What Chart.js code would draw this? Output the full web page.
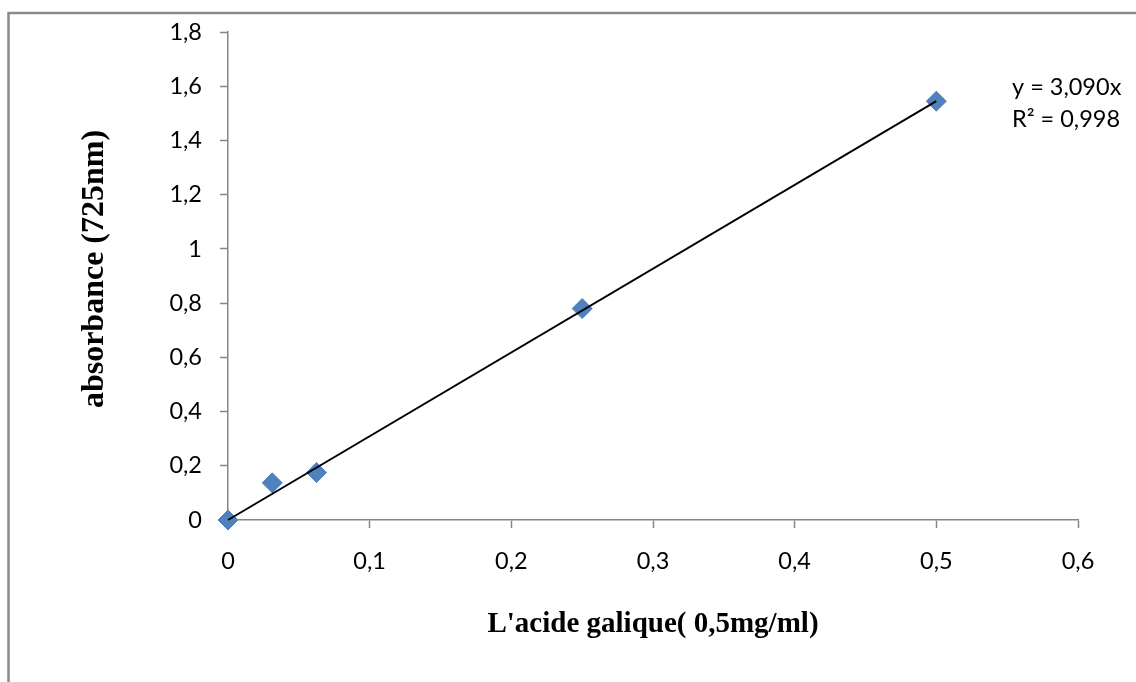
<!DOCTYPE html>
<html>
<head>
<meta charset="utf-8">
<script src="https://cdn.jsdelivr.net/npm/chart.js@4/dist/chart.umd.min.js"></script>
<style>
  html, body { margin: 0; padding: 0; background: #ffffff; }
  #wrap { position: relative; width: 1136px; height: 682px; }
</style>
</head>
<body>
<div id="wrap"><canvas id="c"></canvas></div>
<script>
// ---- data ----
const concentrations = [0, 0.03125, 0.0625, 0.25, 0.5];
const absorbances    = [0, 0.137, 0.175, 0.78, 1.545];
const trendX = [0, 0.5];
const trendY = [0, 1.545];
const xTickLabels = ['0', '0,1', '0,2', '0,3', '0,4', '0,5', '0,6'];
const yTickLabels = ['0', '0,2', '0,4', '0,6', '0,8', '1', '1,2', '1,4', '1,6', '1,8'];
const equationLines = ['y = 3,090x', 'R\u00B2 = 0,998'];
const xTitle = "L'acide galique( 0,5mg/ml)";
const yTitle = 'absorbance (725nm)';

const pointData = concentrations.map((x, i) => ({ x: x, y: absorbances[i] }));
const trendData = trendX.map((x, i) => ({ x: x, y: trendY[i] }));

const AXIS_GRAY = '#868686';
const TICK_FONT = { family: 'Lato', size: 23.5 };

const frameAndText = {
  id: 'frameAndText',
  beforeDraw(chart) {
    const ctx = chart.ctx;
    ctx.save();
    ctx.fillStyle = '#ffffff';
    ctx.fillRect(0, 0, chart.width, chart.height);
    ctx.strokeStyle = '#8a8a8a';
    ctx.lineWidth = 2.5;
    ctx.beginPath();
    ctx.moveTo(8.5, chart.height + 5);
    ctx.lineTo(8.5, 13);
    ctx.lineTo(chart.width + 5, 13);
    ctx.stroke();
    ctx.restore();
  },
  afterDraw(chart) {
    const ctx = chart.ctx;
    ctx.save();
    ctx.fillStyle = '#000000';
    ctx.font = '23.5px Lato';
    ctx.textAlign = 'left';
    ctx.textBaseline = 'alphabetic';
    ctx.fillText(equationLines[0], 1012, 95);
    ctx.fillText(equationLines[1], 1012, 127);
    // y-axis title (rotated), centred a little above the plot's middle as in the reference
    ctx.font = 'bold 32px "Liberation Serif"';
    ctx.textAlign = 'center';
    ctx.textBaseline = 'alphabetic';
    ctx.translate(103, 269);
    ctx.rotate(-Math.PI / 2);
    ctx.fillText(yTitle, 0, 0);
    ctx.restore();
  }
};

new Chart(document.getElementById('c'), {
  type: 'scatter',
  data: {
    datasets: [
      {
        type: 'line',
        label: 'trend',
        data: trendData,
        borderColor: '#000000',
        borderWidth: 2,
        pointRadius: 0,
        fill: false,
        clip: false,
        order: 0
      },
      {
        label: 'absorbance',
        data: pointData,
        pointStyle: 'rectRot',
        pointRadius: 10,
        pointBackgroundColor: '#4F81BD',
        pointBorderColor: '#4F81BD',
        pointBorderWidth: 1,
        showLine: false,
        clip: false,
        order: 1
      }
    ]
  },
  options: {
    responsive: true,
    maintainAspectRatio: false,
    animation: false,
    layout: { padding: { top: 32, right: 58, left: 0, bottom: 0 } },
    plugins: {
      legend: { display: false },
      tooltip: { enabled: false }
    },
    scales: {
      x: {
        type: 'linear',
        min: 0,
        max: 0.6,
        afterFit(scale) { scale.height = 162; },
        ticks: {
          stepSize: 0.1,
          padding: 19,
          color: '#000000',
          font: TICK_FONT,
          maxRotation: 0,
          callback: (v, i) => xTickLabels[i]
        },
        grid: {
          display: true,
          drawOnChartArea: false,
          drawTicks: true,
          tickLength: 8,
          tickColor: AXIS_GRAY,
          tickWidth: 1.5
        },
        border: { display: true, color: AXIS_GRAY, width: 1.5 },
        title: {
          display: true,
          text: xTitle,
          color: '#000000',
          font: { family: 'Liberation Serif', size: 29, weight: 'bold' },
          padding: { top: 0, bottom: 40 }
        }
      },
      y: {
        type: 'linear',
        min: 0,
        max: 1.8,
        afterFit(scale) { scale.width = 228; },
        ticks: {
          stepSize: 0.2,
          padding: 18,
          color: '#000000',
          font: TICK_FONT,
          callback: (v, i) => yTickLabels[i]
        },
        grid: {
          display: true,
          drawOnChartArea: false,
          drawTicks: true,
          tickLength: 8,
          tickColor: AXIS_GRAY,
          tickWidth: 1.5
        },
        border: { display: true, color: AXIS_GRAY, width: 1.5 },
        title: { display: false }
      }
    }
  },
  plugins: [frameAndText]
});
</script>
</body>
</html>
